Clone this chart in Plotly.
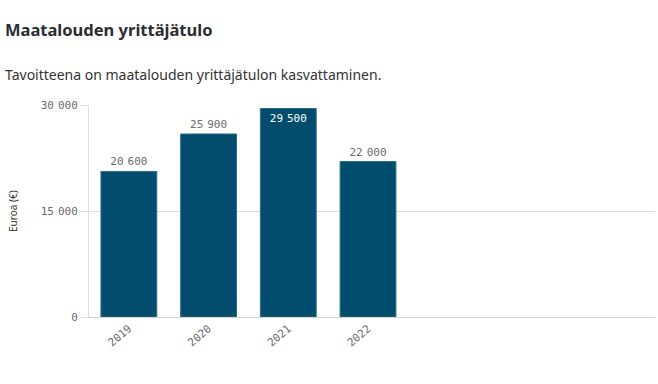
import plotly.graph_objects as go

years = ["2019", "2020", "2021", "2022"]
values = [20600, 25900, 29500, 22000]
y_ticks = [0, 15000, 30000]
title = "Maatalouden yrittäjätulo"
subtitle = "Tavoitteena on maatalouden yrittäjätulon kasvattaminen."
y_title = "Euroa (€)"

W, H = 658, 384
ML, MR, MT, MB = 89, 3, 105, 67
PW, PH = W - ML - MR, H - MT - MB

def px(x):
    return (x - ML) / PW

def py(y):
    return (H - MB - y) / PH

SEP = "<span style='font-size:6.5px'> </span>"

def fmt(v):
    return f"{v:,}".replace(",", SEP)

labels = [fmt(v) for v in values]
tick_text = [fmt(v) for v in y_ticks]
positions = ["inside" if v > 28000 else "outside" for v in values]

mono = "DejaVu Sans Mono"

fig = go.Figure(go.Bar(
    x=list(range(len(years))),
    y=values,
    width=0.7,
    marker=dict(color="#024d6e", line=dict(color="#2f6a88", width=1)),
    text=labels,
    textposition=positions,
    insidetextanchor="end",
    insidetextfont=dict(family=mono, size=11, color="#ffffff"),
    outsidetextfont=dict(family=mono, size=11, color="#6b6b6b"),
    cliponaxis=False,
    hoverinfo="skip",
))

fig.update_layout(
    width=W, height=H,
    margin=dict(l=ML, r=MR, t=MT, b=MB),
    paper_bgcolor="white", plot_bgcolor="white",
    showlegend=False,
    xaxis=dict(
        range=[-0.5, 6.6],
        tickvals=list(range(len(years))),
        ticktext=years,
        tickangle=-40,
        tickfont=dict(family=mono, size=11, color="#6b6b6b"),
        showgrid=False, zeroline=False,
        showline=True, linecolor="#cfcfcf", linewidth=1,
        ticks="",
    ),
    yaxis=dict(
        range=[0, 30000],
        tickvals=y_ticks,
        ticktext=tick_text,
        tickfont=dict(family=mono, size=11, color="#6b6b6b"),
        showgrid=True, gridcolor="#dedede", gridwidth=1,
        zeroline=False,
        showline=True, linecolor="#dedede", linewidth=1,
        ticks="outside", ticklen=8, tickcolor="#dedede",
    ),
    annotations=[
        dict(text=f"<b>{title}</b>", xref="paper", yref="paper",
             x=px(3), y=py(29), xanchor="left", yanchor="middle",
             showarrow=False, font=dict(family="Noto Sans", size=16.5, color="#2b2d33")),
        dict(text=subtitle, xref="paper", yref="paper",
             x=px(3), y=py(74), xanchor="left", yanchor="middle",
             showarrow=False, font=dict(family="Noto Sans", size=14, color="#333333")),
        dict(text=y_title, xref="paper", yref="paper",
             x=px(13), y=py(211), xanchor="center", yanchor="middle",
             textangle=-90, showarrow=False,
             font=dict(family="Noto Sans", size=10, color="#333333")),
    ],
)

fig.write_html("out.html", config={"displayModeBar": False},
               post_script="document.body.style.margin='0';")
